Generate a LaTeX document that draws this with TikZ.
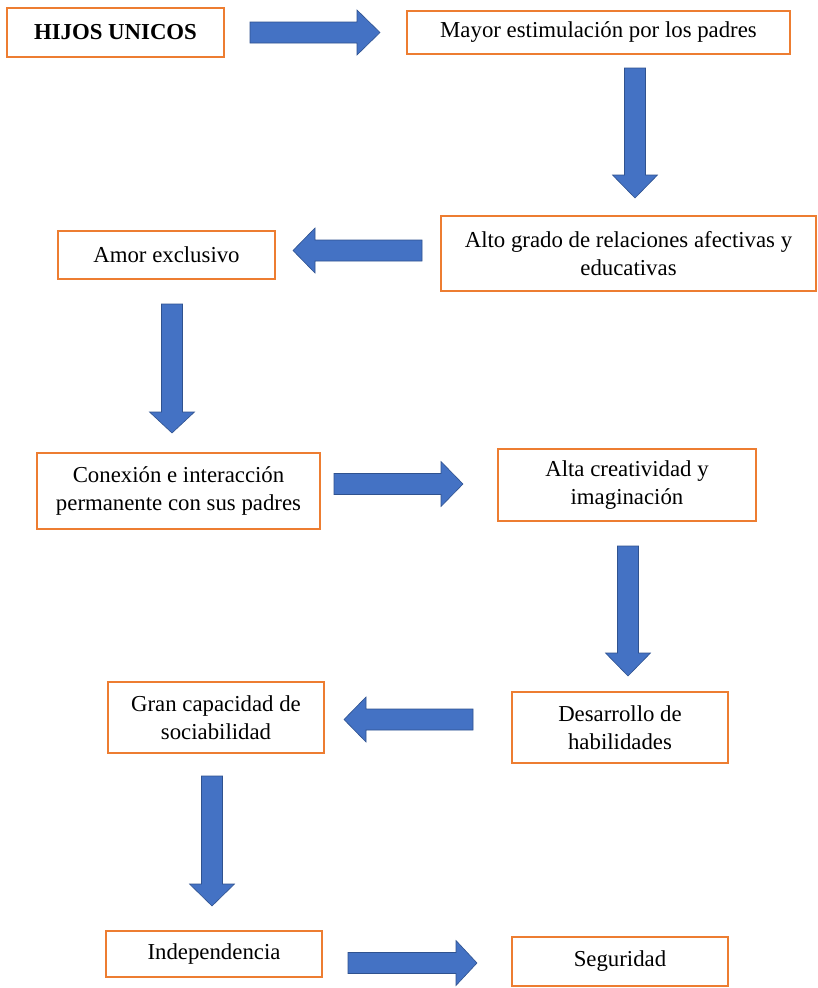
\documentclass[tikz,border=0pt]{standalone}
\usepackage{fontspec}
\setmainfont{Liberation Serif}
\definecolor{boxorange}{RGB}{237,125,49}
\definecolor{arrowblue}{RGB}{68,114,196}
\definecolor{arrowedge}{RGB}{47,82,143}
\newcommand{\BlkRight}[4]{% xL, xBase, xTip, cy
  \draw[blockarrow] (#1,#4-10.5) -- (#2,#4-10.5) -- (#2,#4-22.5) -- (#3,#4) -- (#2,#4+22.5) -- (#2,#4+10.5) -- (#1,#4+10.5) -- cycle;}
\newcommand{\BlkDown}[4]{% cx, top, base, tip
  \draw[blockarrow] (#1-10.5,#2) -- (#1+10.5,#2) -- (#1+10.5,#3) -- (#1+22.5,#3) -- (#1,#4) -- (#1-22.5,#3) -- (#1-10.5,#3) -- cycle;}
\begin{document}
\begin{tikzpicture}[x=1pt,y=-1pt,
  flowbox/.style={draw=boxorange, line width=1.3pt, fill=white, align=center,
    font=\fontsize{22.8}{27.5}\selectfont, inner sep=0pt},
  blockarrow/.style={fill=arrowblue, draw=arrowedge, line width=0.6pt, line join=miter}]
\useasboundingbox (0,0) rectangle (817,988);
\fill[white] (0,0) rectangle (817,988);
% boxes
\node[flowbox, minimum width=217, minimum height=49, font=\fontsize{22.8}{27.5}\selectfont\bfseries] (hijos) at (115.5,32.5) {HIJOS UNICOS};
\node[flowbox, minimum width=383, minimum height=43] (mayor) at (598.5,32.5) {Mayor estimulación por los padres};
\node[flowbox, minimum width=375, minimum height=75] (alto) at (628.5,253.5) {Alto grado de relaciones afectivas y\\educativas};
\node[flowbox, minimum width=217, minimum height=48] (amor) at (166.5,255) {Amor exclusivo};
\node[flowbox, minimum width=283, minimum height=76] (conex) at (178.5,491) {Conexión e interacción\\permanente con sus padres};
\node[flowbox, minimum width=258, minimum height=72] (alta) at (627,485) {Alta creatividad y\\imaginación};
\node[flowbox, minimum width=216, minimum height=71] (desar) at (620,727.5) {Desarrollo de\\habilidades};
\node[flowbox, minimum width=216, minimum height=71] (gran) at (216,717.5) {Gran capacidad de\\sociabilidad};
\node[flowbox, minimum width=216, minimum height=46] (indep) at (214,954) {Independencia};
\node[flowbox, minimum width=216, minimum height=49] (segur) at (620,961.5) {Seguridad};
% block arrows
\BlkRight{250}{357}{380}{32.5}
\BlkDown{635}{68}{175}{198}
\BlkRight{422}{315}{293}{250.5}
\BlkDown{172}{304}{412}{433}
\BlkRight{334}{441}{463}{484}
\BlkDown{628}{546}{653}{676}
\BlkRight{473}{366}{344}{719.5}
\BlkDown{212}{776}{884}{906}
\BlkRight{348}{456}{477}{963}
\end{tikzpicture}
\end{document}
